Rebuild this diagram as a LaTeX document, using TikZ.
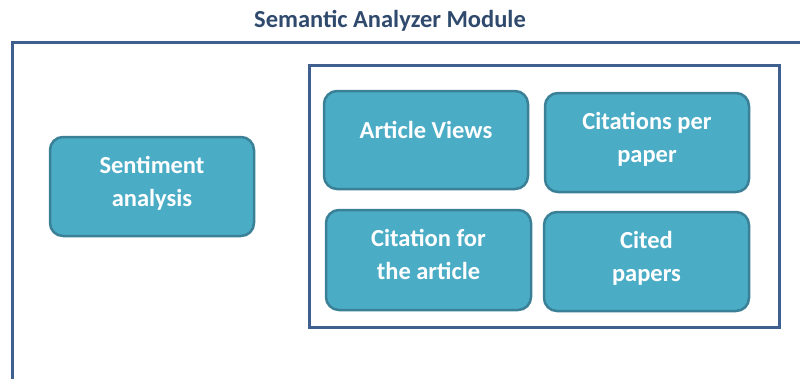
\documentclass[tikz,border=0pt]{standalone}
\usepackage{fontspec}
\setmainfont{Carlito}
\definecolor{boxfill}{HTML}{4BACC6}
\definecolor{boxline}{HTML}{3A8096}
\definecolor{framecol}{HTML}{3F5F8E}
\definecolor{titlecol}{HTML}{2F4A6D}
\begin{document}
\begin{tikzpicture}[x=1pt,y=-1pt,
  modbox/.style={draw=boxline, fill=boxfill, line width=2.5pt, rounded corners=13pt,
    minimum width=204pt, minimum height=99pt, align=center, text=white,
    font=\fontsize{24.5}{33}\selectfont\bfseries, inner sep=2pt},
  twoline/.style={text depth=11pt},
  frameline/.style={draw=framecol, line width=3pt},
  titlestyle/.style={text=titlecol, font=\fontsize{24.5}{29}\selectfont\bfseries}]
\useasboundingbox (0,0) rectangle (800,378);
% outer frame
\coordinate (obl) at (12,380);
\coordinate (otl) at (12,42);
\coordinate (otr) at (802,42);
\draw[frameline] (obl) -- (otl) -- (otr);
% inner frame
\coordinate (itl) at (309,65);
\coordinate (ibr) at (779,327);
\draw[frameline] (itl) rectangle (ibr);
\node[titlestyle] (title) at (390,21) {Semantic Analyzer Module};
\node[modbox, twoline] (sent) at (152,186.5) {Sentiment\\analysis};
\node[modbox, minimum height=98pt, text height=17pt, text depth=21pt] (views) at (426,140) {Article Views};
\node[modbox, twoline] (cpp) at (647,142.5) {Citations per\\paper};
\node[modbox, twoline, minimum width=205pt, minimum height=100pt] (cfa) at (428.5,260) {Citation for\\the article};
\node[modbox, twoline, minimum width=205pt] (cited) at (646.5,261.5) {Cited\\papers};
\end{tikzpicture}
\end{document}
